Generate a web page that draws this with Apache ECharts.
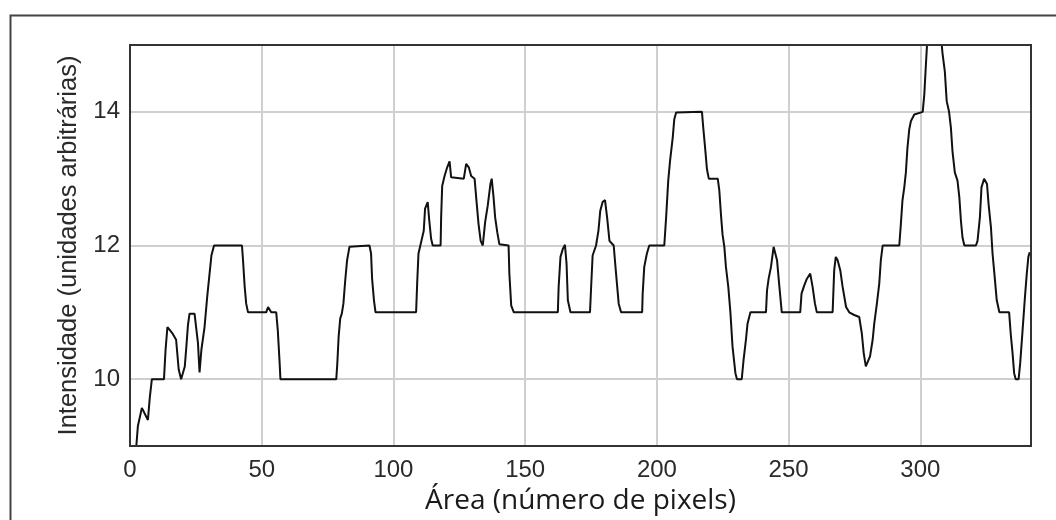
<!DOCTYPE html>
<html>
<head>
<meta charset="utf-8">
<script src="https://cdn.jsdelivr.net/npm/echarts@6/dist/echarts.min.js"></script>
<style>
  html, body { margin: 0; padding: 0; background: #fff; }
  #chart { width: 1056px; height: 520px; }
</style>
</head>
<body>
<div id="chart"></div>
<script>
// Intensity profile along the measured area (pixel index vs. arbitrary units)
const areaPx = [
  2.4, 3.0, 4.5, 6.8, 7.5, 8.3, 12.9, 13.5, 14.2, 16.2, 17.5, 18.5, 19.4, 20.1, 20.8, 21.4, 22.0, 22.6,
  24.5, 25.2, 25.8, 26.4, 27.1, 28.3, 29.3, 30.2, 30.9, 31.9, 42.5, 42.9, 43.5, 44.1, 44.8, 51.7, 52.4,
  53.6, 55.5, 56.1, 56.8, 57.1, 78.3, 78.7, 79.2, 79.8, 80.4, 81.0, 81.7, 82.4, 83.3, 83.9, 90.9, 91.5,
  91.9, 92.6, 93.2, 108.6, 109.0, 109.5, 110.1, 110.8, 111.5, 112.0, 113.0, 113.6, 114.3, 114.9, 117.9,
  118.1, 118.5, 119.4, 120.4, 121.3, 121.9, 122.5, 126.7, 127.6, 128.6, 129.5, 130.8, 131.4, 132.3,
  133.1, 133.9, 134.8, 135.8, 136.8, 137.3, 138.0, 138.6, 139.4, 140.2, 143.7, 144.0, 144.7, 145.7,
  162.4, 162.7, 163.4, 164.3, 165.1, 165.7, 166.2, 167.2, 174.6, 175.0, 175.6, 176.9, 177.8, 178.5,
  179.4, 180.3, 181.1, 182.0, 183.6, 184.5, 185.5, 186.4, 194.4, 194.6, 195.2, 196.2, 197.1, 202.8,
  203.5, 204.3, 205.0, 206.0, 206.6, 207.3, 217.1, 217.6, 218.3, 219.0, 219.7, 223.1, 223.7, 224.3,
  224.9, 225.6, 226.2, 227.1, 227.9, 228.7, 229.8, 230.4, 232.2, 232.9, 233.8, 234.4, 235.5, 241.4,
  241.8, 242.4, 243.3, 244.3, 244.8, 245.6, 246.5, 247.4, 254.4, 254.9, 255.9, 256.9, 258.2, 259.1,
  260.0, 260.7, 266.7, 267.3, 267.9, 268.6, 269.6, 270.5, 271.8, 273.0, 274.9, 276.8, 277.8, 278.5,
  279.3, 279.9, 280.9, 281.9, 282.5, 283.5, 284.4, 285.0, 285.7, 292.0, 292.6, 293.2, 293.9, 294.5,
  295.1, 295.8, 296.4, 297.7, 300.9, 301.5, 302.1, 302.6, 305.0, 308.0, 308.4, 309.3, 310.0, 310.9,
  311.6, 312.2, 313.1, 314.1, 314.8, 315.4, 316.0, 316.7, 321.1, 321.7, 322.6, 323.2, 324.2, 325.3,
  325.9, 326.8, 327.4, 328.1, 329.0, 330.0, 333.7, 334.3, 335.0, 335.6, 336.2, 337.3, 337.9, 338.8,
  339.7, 340.4, 341.0, 341.5
];
const intensity = [
  9.0, 9.3, 9.57, 9.39, 9.72, 10.0, 10.0, 10.44, 10.78, 10.68, 10.59, 10.14, 10.0, 10.0, 10.19, 10.49, 10.81, 10.98,
  10.98, 10.96, 10.54, 10.1, 10.44, 10.78, 11.23, 11.58, 11.85, 12.0, 12.0, 11.78, 11.4, 11.13, 11.0, 11.0, 11.08,
  11.0, 11.0, 10.73, 10.24, 10.0, 10.0, 10.24, 10.64, 10.91, 10.98, 11.13, 11.48, 11.78, 11.98, 12.0, 12.0, 11.88,
  11.5, 11.18, 11.0, 11.0, 11.43, 11.88, 11.98, 12.0, 12.22, 12.55, 12.65, 12.37, 12.1, 12.0, 12.0,
  12.42, 12.89, 13.04, 13.17, 13.26, 13.02, 13.0, 13.0, 13.22, 13.17, 13.04, 13.0, 12.72, 12.32,
  12.07, 12.0, 12.35, 12.6, 12.92, 13.0, 12.72, 12.42, 12.2, 12.02, 12.0, 11.58, 11.1, 11.0,
  11.0, 11.38, 11.83, 11.95, 12.01, 11.73, 11.18, 11.0, 11.0, 11.35, 11.85, 12.0, 12.22, 12.52,
  12.65, 12.68, 12.42, 12.07, 12.0, 11.58, 11.13, 11.0, 11.0, 11.28, 11.68, 11.88, 12.0, 12.0,
  12.42, 12.97, 13.27, 13.61, 13.89, 13.99, 14.0, 13.76, 13.46, 13.14, 13.0, 13.0, 12.82, 12.47,
  12.17, 11.98, 11.68, 11.38, 11.0, 10.49, 10.09, 10.0, 10.0, 10.29, 10.59, 10.83, 11.0, 11.0,
  11.33, 11.5, 11.68, 11.98, 12.0, 11.78, 11.38, 11.0, 11.0, 11.28, 11.4, 11.5, 11.58, 11.38,
  11.13, 11.0, 11.0, 11.63, 11.83, 11.78, 11.63, 11.38, 11.08, 11.0, 10.96, 10.93, 10.68, 10.39,
  10.19, 10.21, 10.34, 10.59, 10.83, 11.13, 11.43, 11.78, 12.0, 12.0, 12.32, 12.67, 12.87, 13.09,
  13.46, 13.74, 13.86, 13.96, 14.0, 14.26, 14.7, 15.05, 15.3, 15.05, 14.88, 14.6, 14.16, 14.0,
  13.76, 13.41, 13.09, 12.97, 12.72, 12.37, 12.12, 12.0, 12.0, 12.07, 12.42, 12.87, 13.0, 12.92,
  12.62, 12.27, 11.88, 11.58, 11.18, 11.0, 11.0, 10.68, 10.39, 10.09, 10.0, 10.0, 10.24, 10.73,
  11.23, 11.58, 11.83, 11.9
];
const xTickValues = [0, 50, 100, 150, 200, 250, 300];
const yTickValues = [10, 12, 14];
const xTitle = 'Área (número de pixels)';
const yTitle = 'Intensidade (unidades arbitrárias)';

const points = areaPx.map((x, i) => [x, intensity[i]]);

const chart = echarts.init(document.getElementById('chart'), null, { renderer: 'canvas' });

const tickFont = { fontFamily: 'Liberation Sans', fontSize: 24, color: '#2a2a2a' };
const gridColor = '#cfcfcf';
const plot = { left: 130, top: 45, width: 901, height: 401 };

chart.setOption({
  animation: false,
  backgroundColor: '#ffffff',
  graphic: [{
    // outer panel frame
    type: 'rect',
    left: 8, top: 13,
    shape: { width: 1100, height: 600 },
    style: { fill: 'none', stroke: '#444', lineWidth: 2 },
    silent: true
  }, {
    // plot border, kept above the grid lines
    type: 'rect',
    x: plot.left, y: plot.top, z: 100,
    shape: { x: 0, y: 0, width: plot.width, height: plot.height },
    style: { fill: 'none', stroke: '#333', lineWidth: 2 },
    silent: true
  }],
  grid: { ...plot, show: false },
  xAxis: {
    type: 'value', min: 0, max: 342, interval: 50,
    axisLine: { show: false }, axisTick: { show: false },
    axisLabel: {
      ...tickFont, margin: 12, showMaxLabel: false,
      formatter: v => (xTickValues.includes(v) ? String(v) : '')
    },
    splitLine: { show: true, lineStyle: { color: gridColor, width: 2 } },
    name: xTitle, nameLocation: 'middle', nameGap: 38,
    nameTextStyle: { fontFamily: 'Open Sans', fontSize: 28, color: '#1a1a1a' }
  },
  yAxis: {
    type: 'value', min: 9, max: 15, interval: 1,
    axisLine: { show: false }, axisTick: { show: false },
    axisLabel: {
      ...tickFont, margin: 10,
      formatter: v => (yTickValues.includes(v) ? String(v) : '')
    },
    // lines at 9..15; only the even values 10, 12, 14 are visible
    splitLine: { show: true, lineStyle: { color: ['transparent', gridColor], width: 2 } },
    name: yTitle, nameLocation: 'middle', nameGap: 40,
    nameTextStyle: { fontFamily: 'Liberation Sans', fontSize: 25.5, color: '#2a2a2a' }
  },
  series: [{
    type: 'line',
    data: points,
    showSymbol: false,
    clip: true,
    lineStyle: { color: '#111', width: 2 }
  }]
});
</script>
</body>
</html>
